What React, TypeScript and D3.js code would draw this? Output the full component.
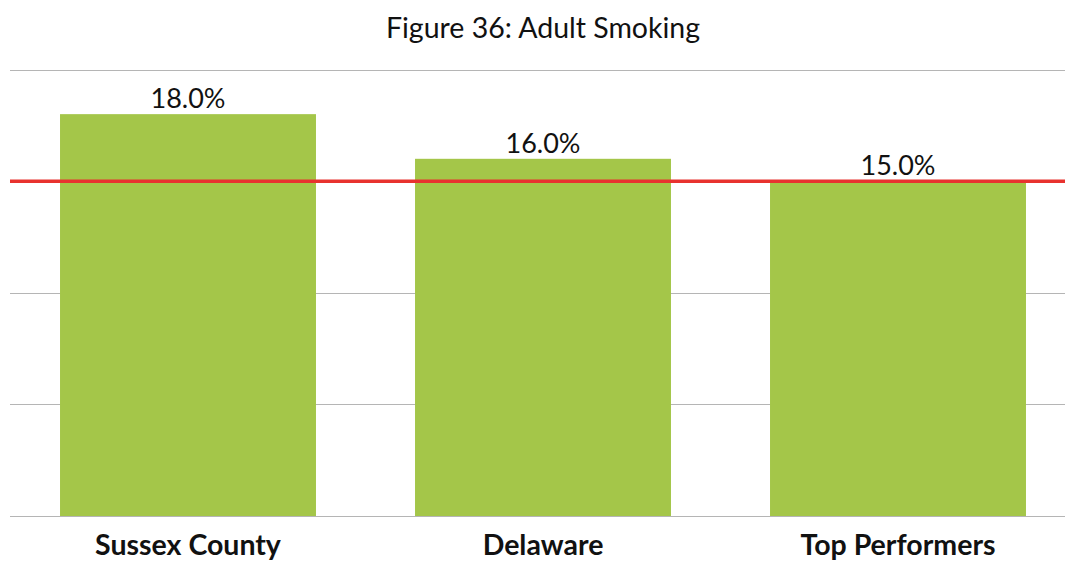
import React from "react";
import * as d3 from "d3";

const categories = ["Sussex County", "Delaware", "Top Performers"];
const values = [18.0, 16.0, 15.0];
const yTicks = [0, 5, 10, 15, 20];
const targetValue = 15;
const title = "Figure 36: Adult Smoking";

export default function App() {
  const W = 1065, H = 563;
  const x = d3.scaleBand<string>().domain(categories).range([10.5, 1075.5]).paddingInner(0.279).paddingOuter(0.1395);
  const y = d3.scaleLinear().domain([0, 20]).range([516, 69.5]);
  const font = "Lato, 'Open Sans', sans-serif";
  return (
    <svg width={W} height={H} style={{ position: "absolute", left: 0, top: 0 }}>
      <rect width={W} height={H} fill="#fff" />
      <text x={543} y={38} textAnchor="middle" fontFamily={font} fontWeight={400} fontSize={28.5} fill="#111">{title}</text>
      {yTicks.map((t) => (
        <line key={t} x1={10} x2={W} y1={Math.round(y(t)) + 0.5} y2={Math.round(y(t)) + 0.5} stroke="#b5b5b5" strokeWidth={1.2} />
      ))}
      {categories.map((c, i) => (
        <g key={c}>
          <rect x={x(c)} y={y(values[i])} width={x.bandwidth()} height={y(0) - y(values[i])} fill="#a4c649" />
          <text x={x(c)! + x.bandwidth() / 2} y={y(values[i]) - 6} textAnchor="middle" fontFamily={font} fontWeight={400} fontSize={27} fill="#111">{values[i].toFixed(1) + "%"}</text>
          <text x={x(c)! + x.bandwidth() / 2} y={555} textAnchor="middle" fontFamily={font} fontWeight={700} fontSize={28.5} fill="#111">{c}</text>
        </g>
      ))}
      <line x1={10} x2={W} y1={y(targetValue)} y2={y(targetValue)} stroke="#e8322f" strokeWidth={3.5} />
    </svg>
  );
}
